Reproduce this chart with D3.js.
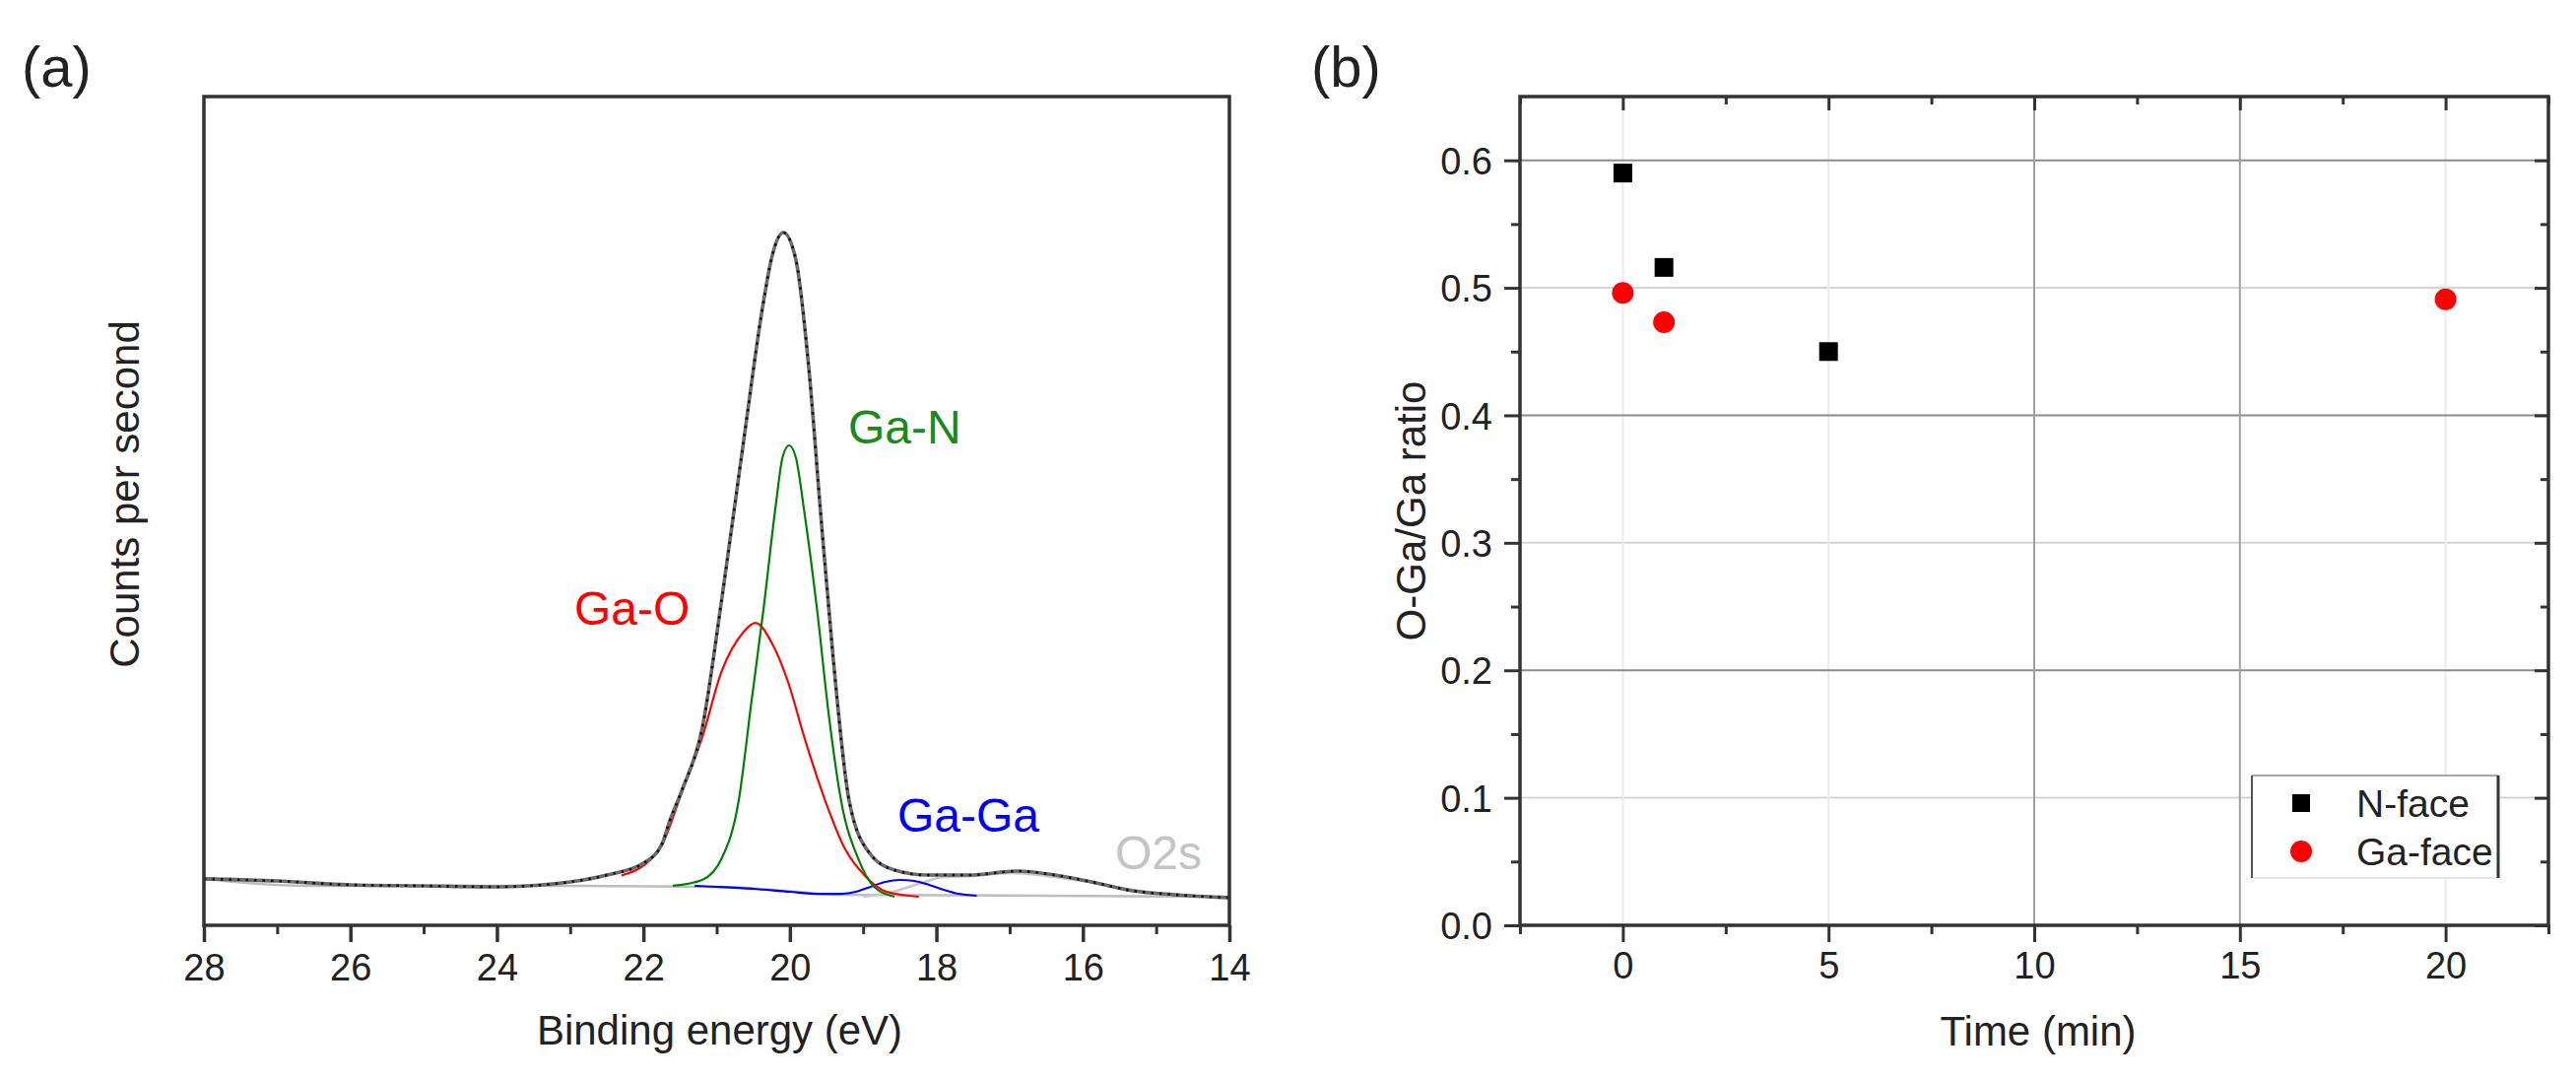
<!DOCTYPE html>
<html>
<head>
<meta charset="utf-8">
<script src="https://cdn.jsdelivr.net/npm/d3@7/dist/d3.min.js"></script>
<style>
  html, body { margin: 0; padding: 0; background: #fff; }
  svg { display: block; }
  text { font-family: "Liberation Sans", Arial, sans-serif; fill: #222; }
</style>
</head>
<body>
<svg id="chart" width="2615" height="1096"></svg>
<script>
// ---------- Panel (a) data: XPS Ga3d region (binding energy eV, counts a.u.) ----------
const envelopeE = [28.0, 27.0, 26.0, 25.0, 24.0, 23.0, 22.5, 22.0, 21.75, 21.64, 21.48, 21.2, 20.93, 20.64, 20.36, 20.25, 20.09, 19.92, 19.74, 19.58, 19.41, 19.19, 18.91, 18.57, 18.12, 17.56, 16.89, 16.38, 15.88, 15.32, 14.75, 14.0];
const envelopeC = [56, 53.5, 48.8, 47.6, 46.4, 52.3, 60.6, 74.9, 97.5, 126, 161.7, 236.6, 393.6, 579.1, 752.7, 805, 835.9, 803.8, 670.6, 497, 323.4, 149.8, 86.8, 66.6, 60.6, 60.6, 65.4, 60.6, 52.3, 41.6, 36.9, 33.3];

const backgroundE = [28.0, 26.6, 22.8, 20.9, 19.9, 19.4, 14.0];
const backgroundC = [55.9, 47.6, 47.6, 46.4, 40.4, 36.9, 34.5];

const gaoE = [22.3, 22.0, 21.75, 21.48, 21.2, 20.93, 20.64, 20.47, 20.25, 20.03, 19.8, 19.52, 19.25, 18.96, 18.68, 18.24];
const gaoC = [60, 72, 96.3, 159.3, 225.9, 306.8, 353.2, 365, 341.3, 294.9, 225.9, 151, 92.7, 58.3, 40.4, 34.5];

const ganE = [21.6, 21.2, 20.93, 20.7, 20.53, 20.36, 20.19, 20.1, 20.01, 19.92, 19.8, 19.63, 19.47, 19.3, 19.07, 18.85, 18.57];
const ganC = [47.6, 54.7, 80.9, 149.8, 266.3, 381.7, 508.9, 564.8, 579.1, 564.8, 497, 381.7, 254.5, 149.8, 80.9, 46.4, 34.5];

const gagaE = [21.3, 21.0, 20.5, 20.0, 19.6, 19.3, 19.1, 18.9, 18.7, 18.5, 18.3, 18.1, 17.9, 17.7, 17.45];
const gagaC = [47.6, 46.4, 44, 40.4, 38, 38, 40.4, 46.4, 52.3, 54.7, 53.5, 48.8, 42.8, 38, 35.7];

const o2sE = [19.0, 18.6, 18.2, 17.9, 17.5, 17.0, 16.5, 16.0, 15.5, 15.0, 14.5, 14.0];
const o2sC = [34.5, 40.4, 51.1, 58.3, 59.5, 63, 59.5, 53.5, 45.2, 39.2, 35.7, 33.3];

const xTicksA = [28, 26, 24, 22, 20, 18, 16, 14];
const xMinorA = [27, 25, 23, 21, 19, 17, 15];

// ---------- Panel (b) data: O-Ga/Ga ratio vs time ----------
const nFaceTime = [0, 1, 5];
const nFaceRatio = [0.59, 0.516, 0.45];
const gaFaceTime = [0, 1, 20];
const gaFaceRatio = [0.496, 0.473, 0.491];

const xTicksB = [0, 5, 10, 15, 20];
const xMinorB = [-2.5, 2.5, 7.5, 12.5, 17.5, 22.5];
const yTicksB = [0.0, 0.1, 0.2, 0.3, 0.4, 0.5, 0.6];
const yMinorB = [0.05, 0.15, 0.25, 0.35, 0.45, 0.55];
const yGridDark = [0.2, 0.4, 0.6];
const yGridLight = [0.1, 0.3, 0.5];
const xGridDark = [10, 15];
const xGridLight = [0, 5, 20];

const svg = d3.select("#chart");
const zip = (a, b) => a.map((v, i) => [v, b[i]]);

// ================= Panel (a) =================
const A = { l: 207, r: 1248, t: 98, b: 939 };
const xA = d3.scaleLinear().domain([28, 14]).range([A.l, A.r]);
const yA = d3.scaleLinear().domain([0, 1000]).range([A.b, A.t]);
const gA = svg.append("g");

const lineA = d3.line().x(d => xA(d[0])).y(d => yA(d[1])).curve(d3.curveMonotoneX);
const pathA = (E, C) => lineA(zip(E, C).sort((p, q) => xA(p[0]) - xA(q[0])));

gA.append("path").attr("d", pathA(backgroundE, backgroundC))
  .attr("fill", "none").attr("stroke", "#bdbdbd").attr("stroke-width", 2.5);
gA.append("path").attr("d", pathA(o2sE, o2sC))
  .attr("fill", "none").attr("stroke", "#c8c8c8").attr("stroke-width", 2.5);
gA.append("path").attr("d", pathA(gagaE, gagaC))
  .attr("fill", "none").attr("stroke", "#0000ff").attr("stroke-width", 2.2);
gA.append("path").attr("d", pathA(gaoE, gaoC))
  .attr("fill", "none").attr("stroke", "#ff0000").attr("stroke-width", 2.2);
gA.append("path").attr("d", pathA(ganE, ganC))
  .attr("fill", "none").attr("stroke", "#008000").attr("stroke-width", 2.2);
gA.append("path").attr("d", pathA(envelopeE, envelopeC))
  .attr("fill", "none").attr("stroke", "#6a6a6a").attr("stroke-width", 3.6);
gA.append("path").attr("d", pathA(envelopeE, envelopeC))
  .attr("fill", "none").attr("stroke", "#111").attr("stroke-width", 2.6)
  .attr("stroke-dasharray", "2.5,6");

// Box
gA.append("rect").attr("x", A.l).attr("y", A.t).attr("width", A.r - A.l).attr("height", A.b - A.t)
  .attr("fill", "none").attr("stroke", "#333").attr("stroke-width", 3.5);

// Bottom axis
const axA = gA.append("g").attr("transform", `translate(0,${A.b})`)
  .call(d3.axisBottom(xA).tickValues(xTicksA).tickSize(17).tickFormat(d3.format("d")));
axA.select(".domain").remove();
axA.selectAll("line").attr("stroke", "#333").attr("stroke-width", 3.5);
axA.selectAll("text").attr("y", 56).attr("dy", 0).style("font-size", "38px")
  .style("font-family", "Liberation Sans, Arial, sans-serif").attr("fill", "#222");
const axAm = gA.append("g").attr("transform", `translate(0,${A.b})`)
  .call(d3.axisBottom(xA).tickValues(xMinorA).tickSize(9).tickFormat(""));
axAm.select(".domain").remove();
axAm.selectAll("line").attr("stroke", "#333").attr("stroke-width", 3);

// Axis titles
gA.append("text").attr("x", (A.l + A.r) / 2 + 3).attr("y", 1060).attr("text-anchor", "middle")
  .style("font-size", "42px").text("Binding energy (eV)");
gA.append("text").attr("transform", `translate(141,${(A.t + A.b) / 2 - 17}) rotate(-90)`)
  .attr("text-anchor", "middle").style("font-size", "42px").text("Counts per second");

// Peak labels
gA.append("text").attr("x", 583).attr("y", 634).style("font-size", "48px").style("fill", "#ff0000").text("Ga-O");
gA.append("text").attr("x", 861).attr("y", 450).style("font-size", "48px").style("fill", "#1a8a1a").text("Ga-N");
gA.append("text").attr("x", 911).attr("y", 844).style("font-size", "48px").style("fill", "#0000ff").text("Ga-Ga");
gA.append("text").attr("x", 1132).attr("y", 882).style("font-size", "48px").style("fill", "#c4c4c4").text("O2s");

gA.append("text").attr("x", 22).attr("y", 88).style("font-size", "58px").text("(a)");

// ================= Panel (b) =================
const B = { l: 1543, r: 2587, t: 98, b: 939 };
const xB = d3.scaleLinear().domain([-2.5, 22.5]).range([B.l, B.r]);
const yB = d3.scaleLinear().domain([0, 0.65]).range([B.b, B.t]);
const gB = svg.append("g");

// grid
gB.selectAll(".gyl").data(yGridLight).join("line")
  .attr("x1", B.l).attr("x2", B.r).attr("y1", d => yB(d)).attr("y2", d => yB(d))
  .attr("stroke", "#d4d4d4").attr("stroke-width", 2);
gB.selectAll(".gxl").data(xGridLight).join("line")
  .attr("y1", B.t).attr("y2", B.b).attr("x1", d => xB(d)).attr("x2", d => xB(d))
  .attr("stroke", "#ececec").attr("stroke-width", 2);
gB.selectAll(".gyd").data(yGridDark).join("line")
  .attr("x1", B.l).attr("x2", B.r).attr("y1", d => yB(d)).attr("y2", d => yB(d))
  .attr("stroke", "#8c8c8c").attr("stroke-width", 2);
gB.selectAll(".gxd").data(xGridDark).join("line")
  .attr("y1", B.t).attr("y2", B.b).attr("x1", d => xB(d)).attr("x2", d => xB(d))
  .attr("stroke", "#a0a0a0").attr("stroke-width", 2);

// axes
function styleAxis(g, w) {
  g.select(".domain").remove();
  g.selectAll("line").attr("stroke", "#333").attr("stroke-width", w);
}
const bx = gB.append("g").attr("transform", `translate(0,${B.b})`)
  .call(d3.axisBottom(xB).tickValues(xTicksB).tickSize(17).tickFormat(d3.format("d")));
styleAxis(bx, 3);
bx.selectAll("text").attr("y", 54).attr("dy", 0).style("font-size", "38px")
  .style("font-family", "Liberation Sans, Arial, sans-serif").attr("fill", "#222");
styleAxis(gB.append("g").attr("transform", `translate(0,${B.b})`)
  .call(d3.axisBottom(xB).tickValues(xMinorB).tickSize(9).tickFormat("")), 3);
styleAxis(gB.append("g").attr("transform", `translate(0,${B.t})`)
  .call(d3.axisTop(xB).tickValues(xTicksB).tickSize(-14).tickFormat("")), 3);
styleAxis(gB.append("g").attr("transform", `translate(0,${B.t})`)
  .call(d3.axisTop(xB).tickValues(xMinorB).tickSize(-8).tickFormat("")), 3);

const by = gB.append("g").attr("transform", `translate(${B.l},0)`)
  .call(d3.axisLeft(yB).tickValues(yTicksB).tickSize(16).tickFormat(d3.format(".1f")));
styleAxis(by, 3);
by.selectAll("text").attr("x", -28).attr("dy", "0.36em").style("font-size", "38px")
  .style("font-family", "Liberation Sans, Arial, sans-serif").attr("fill", "#222");
styleAxis(gB.append("g").attr("transform", `translate(${B.l},0)`)
  .call(d3.axisLeft(yB).tickValues(yMinorB).tickSize(9).tickFormat("")), 3);
styleAxis(gB.append("g").attr("transform", `translate(${B.r},0)`)
  .call(d3.axisRight(yB).tickValues(yTicksB).tickSize(-14).tickFormat("")), 3);
styleAxis(gB.append("g").attr("transform", `translate(${B.r},0)`)
  .call(d3.axisRight(yB).tickValues(yMinorB).tickSize(-8).tickFormat("")), 3);

// Box
gB.append("rect").attr("x", B.l).attr("y", B.t).attr("width", B.r - B.l).attr("height", B.b - B.t)
  .attr("fill", "none").attr("stroke", "#333").attr("stroke-width", 3.5);

// markers
const sq = 19;
gB.selectAll(".nf").data(zip(nFaceTime, nFaceRatio)).join("rect")
  .attr("x", d => xB(d[0]) - sq / 2).attr("y", d => yB(d[1]) - sq / 2)
  .attr("width", sq).attr("height", sq).attr("fill", "#000");
gB.selectAll(".gf").data(zip(gaFaceTime, gaFaceRatio)).join("circle")
  .attr("cx", d => xB(d[0])).attr("cy", d => yB(d[1])).attr("r", 11).attr("fill", "#ff0000");

// legend
const L = { l: 2286, r: 2536, t: 787, b: 891 };
gB.append("rect").attr("x", L.l).attr("y", L.t).attr("width", L.r - L.l).attr("height", L.b - L.t)
  .attr("fill", "#fff").attr("stroke", "none");
gB.append("line").attr("x1", L.l).attr("x2", L.r).attr("y1", L.t).attr("y2", L.t).attr("stroke", "#a8a8a8").attr("stroke-width", 2);
gB.append("line").attr("x1", L.l).attr("x2", L.r).attr("y1", L.b).attr("y2", L.b).attr("stroke", "#e6e6e6").attr("stroke-width", 2);
gB.append("line").attr("x1", L.l).attr("x2", L.l).attr("y1", L.t).attr("y2", L.b).attr("stroke", "#555").attr("stroke-width", 2);
gB.append("line").attr("x1", L.r).attr("x2", L.r).attr("y1", L.t).attr("y2", L.b).attr("stroke", "#333").attr("stroke-width", 3);
gB.append("rect").attr("x", 2336 - 9).attr("y", 815 - 9).attr("width", 18).attr("height", 18).attr("fill", "#000");
gB.append("circle").attr("cx", 2336).attr("cy", 864).attr("r", 11).attr("fill", "#ff0000");
gB.append("text").attr("x", 2392).attr("y", 829).style("font-size", "39px").text("N-face");
gB.append("text").attr("x", 2392).attr("y", 878).style("font-size", "39px").text("Ga-face");

// titles
gB.append("text").attr("x", (B.l + B.r) / 2 + 4).attr("y", 1061).attr("text-anchor", "middle")
  .style("font-size", "42px").text("Time (min)");
gB.append("text").attr("transform", `translate(1447,${(B.t + B.b) / 2}) rotate(-90)`)
  .attr("text-anchor", "middle").style("font-size", "42px").text("O-Ga/Ga ratio");

gB.append("text").attr("x", 1331).attr("y", 88).style("font-size", "58px").text("(b)");
</script>
</body>
</html>
